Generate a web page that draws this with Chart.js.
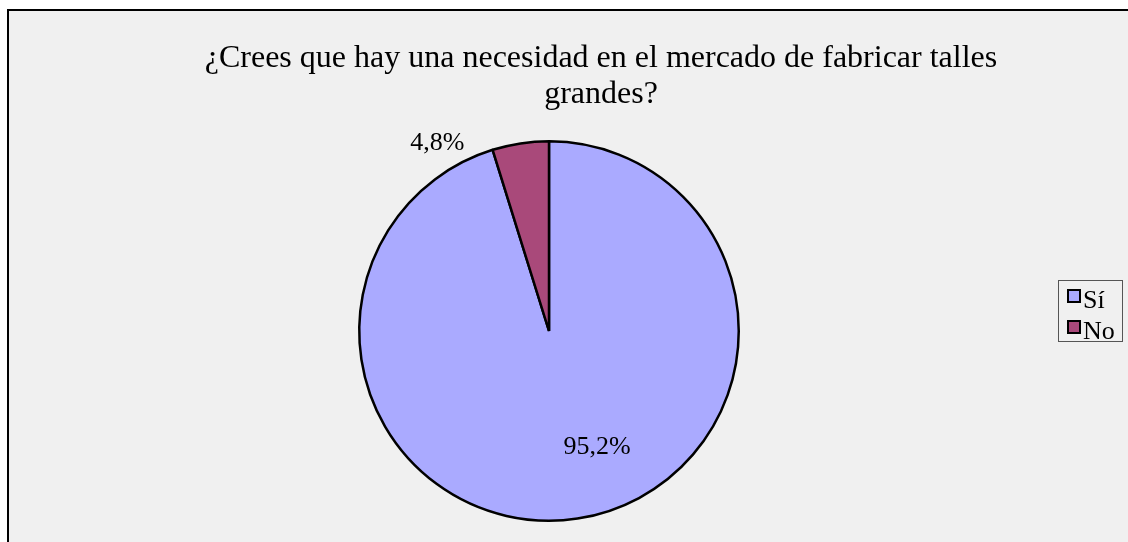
<!DOCTYPE html>
<html>
<head>
<meta charset="utf-8">
<script src="https://cdn.jsdelivr.net/npm/chart.js@4.4.0/dist/chart.umd.min.js"></script>
<style>
  html, body { margin: 0; padding: 0; background: #fff; }
  #wrap { position: relative; width: 1128px; height: 542px; overflow: hidden; }
  #frame {
    position: absolute; left: 7px; top: 9px; right: -10px; bottom: -10px;
    background: #f0f0f0; border-left: 2px solid #000; border-top: 2px solid #000;
  }
  #pie { position: absolute; left: 0; top: 0; }
  #title {
    position: absolute; left: 601px; top: 38px; transform: translateX(-50%);
    font: 32px "Liberation Serif", "Times New Roman", serif; line-height: 36px;
    text-align: center; white-space: nowrap; color: #000;
  }
  #legend {
    position: absolute; left: 1058px; top: 280px; width: 65px; height: 62px;
    border: 1px solid #555; box-sizing: border-box; padding: 3px 0 0 8px;
    font: 26px "Liberation Serif", "Times New Roman", serif; line-height: 31px; color: #000;
  }
  #legend .item { display: flex; align-items: center; }
  #legend .sw {
    width: 10px; height: 10px; border: 2px solid #000; margin-right: 2px;
    position: relative; top: -4px;
  }
</style>
</head>
<body>
<div id="wrap">
  <div id="frame"></div>
  <canvas id="pie" width="1128" height="542"></canvas>
  <div id="title">¿Crees que hay una necesidad en el mercado de fabricar talles<br>grandes?</div>
  <div id="legend"></div>
</div>
<script>
  'use strict';

  // Chart data
  const categories = ['Sí', 'No'];
  const percentages = [95.2, 4.8];
  const sliceColors = ['#aaaaff', '#a9497a'];

  // Label placement relative to each slice centre, as a fraction of the radius
  const labelOffsets = [[0.253, 0.611], [-0.589, -0.989]];

  // Draws the percentage labels, "95,2%" style
  const percentLabels = {
    id: 'percentLabels',
    afterDatasetsDraw(chart) {
      const ctx = chart.ctx;
      const meta = chart.getDatasetMeta(0);
      ctx.save();
      ctx.font = '26px "Liberation Serif", "Times New Roman", serif';
      ctx.fillStyle = '#000';
      ctx.textAlign = 'center';
      ctx.textBaseline = 'middle';
      meta.data.forEach((arc, i) => {
        const r = arc.outerRadius;
        const x = arc.x + r * labelOffsets[i][0];
        const y = arc.y + r * labelOffsets[i][1];
        const text = percentages[i].toFixed(1).replace('.', ',') + '%';
        ctx.fillText(text, x, y);
      });
      ctx.restore();
    }
  };

  const ctx = document.getElementById('pie').getContext('2d');
  new Chart(ctx, {
    type: 'pie',
    data: {
      labels: categories,
      datasets: [{
        data: percentages,
        backgroundColor: sliceColors,
        borderColor: '#000',
        borderWidth: 2.5
      }]
    },
    options: {
      responsive: false,
      animation: false,
      devicePixelRatio: 1,
      layout: {
        padding: { left: 358, right: 388, top: 140, bottom: 20 }
      },
      plugins: {
        legend: { display: false },
        title: { display: false },
        tooltip: { enabled: false }
      }
    },
    plugins: [percentLabels]
  });

  // Legend
  const legend = document.getElementById('legend');
  categories.forEach((name, i) => {
    const item = document.createElement('div');
    item.className = 'item';
    const sw = document.createElement('span');
    sw.className = 'sw';
    sw.style.background = sliceColors[i];
    item.appendChild(sw);
    item.appendChild(document.createTextNode(name));
    legend.appendChild(item);
  });
</script>
</body>
</html>
